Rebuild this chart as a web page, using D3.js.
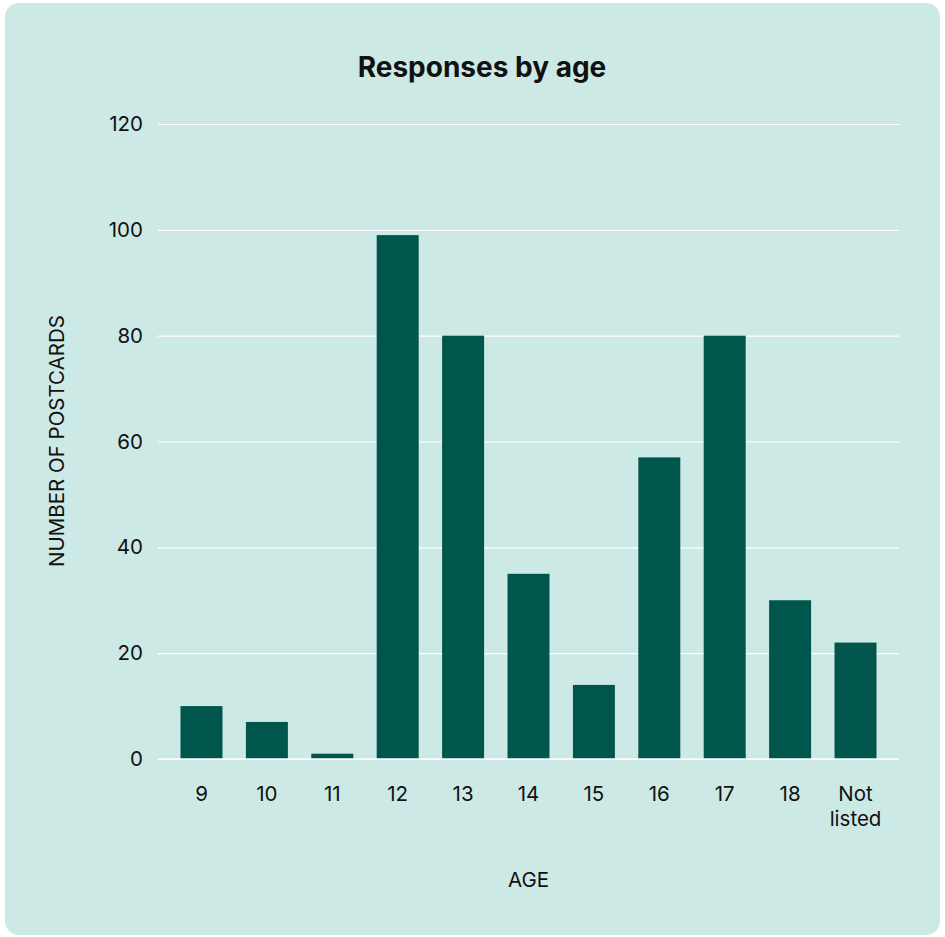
<!DOCTYPE html>
<html lang="en">
<head>
  <meta charset="utf-8">
  <title>Responses by age</title>
  <script src="https://d3js.org/d3.v7.min.js"></script>
  <style>
    body { margin: 0; background: #ffffff; }
    .mychart text { font-family: Inter, "Noto Sans", sans-serif; fill: #111; }
  </style>
</head>
<body>
  <div class="mychart" id="chart"></div>
  <script>
    "use strict"
    // dados
    var idades = ["9", "10", "11", "12", "13", "14", "15", "16", "17", "18", "Not listed"];
    var postais = [10, 7, 1, 99, 80, 35, 14, 57, 80, 30, 22];
    var ticksY = [0, 20, 40, 60, 80, 100, 120];

    var larguraSVG = 945, alturaSVG = 937;
    var margin = {top: 124, right: 46, bottom: 178, left: 158};
    var larguraVis = larguraSVG - margin.left - margin.right,
        alturaVis = alturaSVG - margin.top - margin.bottom;

    var svg = d3.select('#chart').append('svg')
      .attr('width', larguraSVG)
      .attr('height', alturaSVG);

    // fundo
    svg.append('rect')
      .attr('x', 5).attr('y', 3)
      .attr('width', 935).attr('height', 932)
      .attr('rx', 14)
      .attr('fill', '#cce9e6');

    var grafico = svg.append('g')
      .attr('transform', 'translate(' + margin.left + ',' + margin.top + ')');

    var x = d3.scaleBand()
      .domain(idades)
      .range([0, larguraVis])
      .paddingInner(0.358)
      .paddingOuter(0.344);

    var y = d3.scaleLinear()
      .domain([0, 120])
      .range([alturaVis, 0]);

    // grade
    grafico.append('g')
      .call(d3.axisLeft(y).tickValues(ticksY).tickSize(-larguraVis).tickPadding(15))
      .call(g => g.select('.domain').remove())
      .call(g => g.selectAll('line').attr('stroke', '#ffffff').attr('stroke-width', 1.2))
      .call(g => g.selectAll('text').attr('font-size', 20.5).attr('fill', '#111'));

    grafico.selectAll('rect.barra')
      .data(postais)
      .enter().append('rect')
        .attr('class', 'barra')
        .attr('x', (d, i) => x(idades[i]))
        .attr('width', x.bandwidth())
        .attr('y', d => y(d))
        .attr('height', d => alturaVis - y(d))
        .attr('fill', '#00564d');

    // linha de base por cima das barras
    grafico.append('line')
      .attr('x1', 0).attr('x2', larguraVis)
      .attr('y1', y(0)).attr('y2', y(0))
      .attr('stroke', '#ffffff').attr('stroke-width', 1.5);

    var eixoX = grafico.append('g')
      .attr('transform', 'translate(0,' + alturaVis + ')')
      .call(d3.axisBottom(x).tickSize(0).tickPadding(0).tickFormat(''))
      .call(g => g.select('.domain').remove());

    eixoX.selectAll('.tick').each(function(d) {
      var t = d3.select(this).append('text')
        .attr('text-anchor', 'middle')
        .attr('font-size', 20.5)
        .attr('fill', '#111');
      d.split(' ').forEach((parte, k) => {
        t.append('tspan').attr('x', 0).attr('y', 42 + k * 25).text(parte);
      });
    });

    svg.append('text')
      .attr('x', 482).attr('y', 77)
      .attr('text-anchor', 'middle')
      .attr('font-size', 28).attr('font-weight', 700)
      .text('Responses by age');

    svg.append('text')
      .attr('x', margin.left + larguraVis / 2).attr('y', 887)
      .attr('text-anchor', 'middle')
      .attr('font-size', 20.5)
      .text('AGE');

    svg.append('text')
      .attr('transform', 'translate(64,441) rotate(-90)')
      .attr('text-anchor', 'middle')
      .attr('font-size', 20.5)
      .text('NUMBER OF POSTCARDS');
  </script>
</body>
</html>
